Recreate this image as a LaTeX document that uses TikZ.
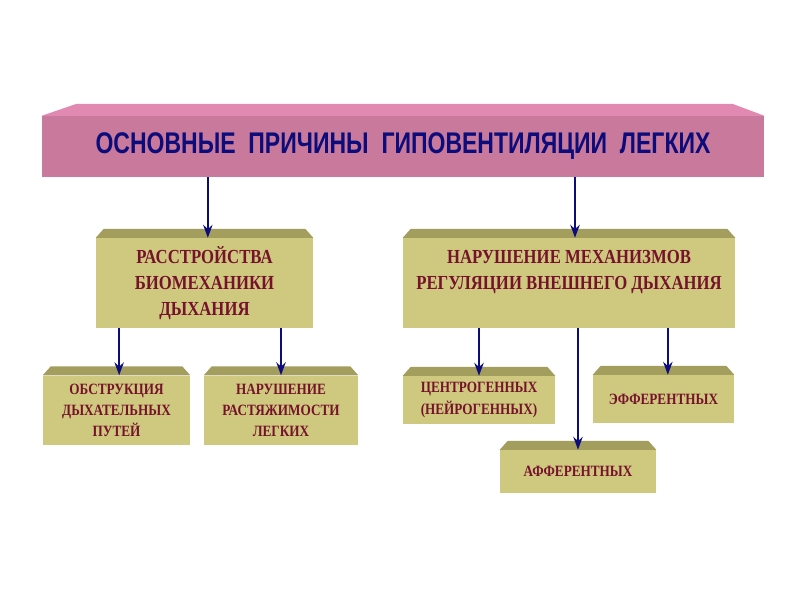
\documentclass[tikz,border=0pt]{standalone}
\usepackage{fontspec}
\usetikzlibrary{arrows.meta}
\setmainfont{Liberation Serif}
\newfontfamily\bannerfont[FakeStretch=0.77]{Liberation Sans}
\newfontfamily\boxfont[FakeStretch=0.84]{Liberation Serif}
\definecolor{bannerpink}{RGB}{200,121,156}
\definecolor{bannertop}{RGB}{226,137,178}
\definecolor{khaki}{RGB}{206,201,126}
\definecolor{khakitop}{RGB}{163,158,94}
\definecolor{causered}{RGB}{118,18,44}
\definecolor{arrownavy}{RGB}{12,12,122}

\begin{document}
\begin{tikzpicture}[
  banner/.style={rectangle, fill=bannerpink, minimum width=21.66cm, minimum height=1.83cm, inner sep=0pt, text=arrownavy, font=\bannerfont\bfseries\fontsize{25.5}{28}\selectfont},
  bigbox/.style={rectangle, fill=khaki, minimum height=2.7cm, inner sep=0pt, align=center, text=causered, font=\boxfont\bfseries\fontsize{17}{22}\selectfont},
  smallbox/.style={rectangle, fill=khaki, inner sep=0pt, align=center, text=causered, font=\boxfont\bfseries\fontsize{13.4}{18}\selectfont},
  arrow/.style={-{Stealth[length=11pt,width=8pt]}, line width=1.6pt, arrownavy}
]
\useasboundingbox[fill=white] (0,0) rectangle (24,18);

\node[banner] (causes) at (12.09,13.605) {ОСНОВНЫЕ\ \ ПРИЧИНЫ\ \ ГИПОВЕНТИЛЯЦИИ\ \ ЛЕГКИХ};

\node[bigbox, minimum width=6.51cm] (biomech) at (6.135,9.51) {РАССТРОЙСТВА\\БИОМЕХАНИКИ\\ДЫХАНИЯ};
\node[bigbox, minimum width=9.96cm] (regul) at (17.07,9.51) {НАРУШЕНИЕ МЕХАНИЗМОВ\\РЕГУЛЯЦИИ ВНЕШНЕГО ДЫХАНИЯ\\~};

\node[smallbox, minimum width=4.41cm, minimum height=2.07cm] (obstr) at (3.495,5.7) {ОБСТРУКЦИЯ\\ДЫХАТЕЛЬНЫХ\\ПУТЕЙ};
\node[smallbox, minimum width=4.62cm, minimum height=2.07cm] (stretch) at (8.43,5.7) {НАРУШЕНИЕ\\РАСТЯЖИМОСТИ\\ЛЕГКИХ};
\node[smallbox, minimum width=4.56cm, minimum height=1.44cm] (central) at (14.37,6.0) {ЦЕНТРОГЕННЫХ\\(НЕЙРОГЕННЫХ)};
\node[smallbox, minimum width=4.23cm, minimum height=1.44cm] (efferent) at (19.905,6.03) {ЭФФЕРЕНТНЫХ};
\node[smallbox, minimum width=4.68cm, minimum height=1.29cm] (afferent) at (17.34,3.855) {АФФЕРЕНТНЫХ};

\fill[bannertop] (causes.north west) -- ++(1.05,0.36) -- ([shift={(-0.96,0.36)}]causes.north east) -- (causes.north east) -- cycle;
\foreach \n in {biomech,regul,obstr,stretch,central,efferent,afferent}
  \fill[khakitop] (\n.north west) -- ++(0.24,0.27) -- ([shift={(-0.24,0.27)}]\n.north east) -- (\n.north east) -- cycle;

\draw[arrow] ([xshift=0.1cm]causes.south -| biomech.north) -- ([xshift=0.1cm]biomech.north);
\draw[arrow] ([xshift=0.18cm]causes.south -| regul.north) -- ([xshift=0.18cm]regul.north);
\draw[arrow] ([xshift=0.08cm]biomech.south -| obstr.north) -- ([xshift=0.08cm]obstr.north);
\draw[arrow] (biomech.south -| stretch.north) -- (stretch.north);
\draw[arrow] (regul.south -| central.north) -- (central.north);
\draw[arrow] (regul.south -| afferent.north) -- (afferent.north);
\draw[arrow] ([xshift=0.13cm]regul.south -| efferent.north) -- ([xshift=0.13cm]efferent.north);
\end{tikzpicture}
\end{document}
